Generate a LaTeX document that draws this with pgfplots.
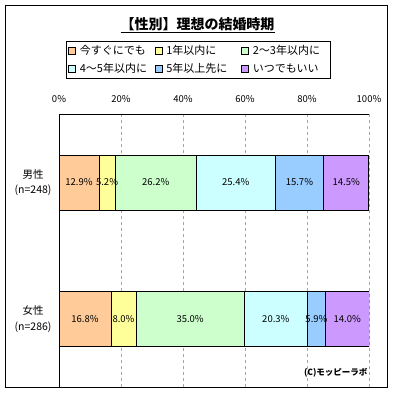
\documentclass[border=0pt]{standalone}
\usepackage{pgfplots}
\pgfplotsset{compat=1.18}
\usepackage{fontspec}
\setmainfont{Noto Sans CJK JP}
\definecolor{c1}{HTML}{FFCC99}
\definecolor{c2}{HTML}{FFFF99}
\definecolor{c3}{HTML}{CCFFCC}
\definecolor{c4}{HTML}{CCFFFF}
\definecolor{c5}{HTML}{99CCFF}
\definecolor{c6}{HTML}{CC99FF}
\pgfplotsset{frameaxis/.style={at={(59pt,-387pt)}, anchor=south west, scale only axis,
  width=310pt, height=273pt, xmin=0, xmax=100, ymin=-387, ymax=-114}}
\begin{document}
\begin{tikzpicture}[x=1pt,y=1pt]
\fill[white] (0pt,0pt) rectangle (394pt,-392pt);
\draw[black, line width=0.9pt] (5.5pt,-5.5pt) rectangle (387.5pt,-387.5pt);
\node[font=\bfseries\fontsize{14}{16}\selectfont] at (197.5pt,-25pt) {\underline{【性別】理想の結婚時期}};
\node[font=\bfseries\fontsize{8.5}{10}\selectfont, anchor=east] at (371pt,-373pt) {(C)モッピーラボ};
\begin{axis}[frameaxis,
  xbar stacked, bar width=55pt,
  axis x line*=top, axis y line*=left,
  axis line style={black, line width=0.9pt},
  xtick={0,20,40,60,80,100},
  xticklabel={\pgfmathprintnumber{\tick}\%},
  /pgf/number format/assume math mode=true,
  xticklabel style={font=\fontsize{9.5}{11}\selectfont},
  xticklabel shift=8pt,
  ytick={-319,-182.5},
  yticklabels={{女性\\(n=286)},{男性\\(n=248)}},
  yticklabel style={align=center, font=\fontsize{10.5}{15.5}\selectfont},
  yticklabel shift=4pt,
  major tick length=0pt,
  xmajorgrids, grid style={gray!70, dashed, line width=0.5pt},
  legend columns=3,
  legend style={at={(rel axis cs:0.0226,1.267)}, anchor=north west, draw=black, line width=0.6pt,
    font=\fontsize{11}{12}\selectfont, inner xsep=2pt, inner ysep=2pt, row sep=3pt,
    /tikz/every odd column/.style={column sep=2pt},
    /tikz/every even column/.style={text width=73pt, inner xsep=0pt},
    /tikz/column 6/.style={text width=66pt, inner xsep=0pt}},
  legend cell align=left,
  legend image code/.code={\draw[#1, draw=black, line width=0.5pt] (0pt,-3.5pt) rectangle (7pt,3.5pt);},
]
\addplot[fill=c1, draw=black, line width=0.7pt] coordinates {(12.9,-182.5) (16.8,-319)};
\addlegendentry{今すぐにでも}
\addplot[fill=c2, draw=black, line width=0.7pt] coordinates {(5.2,-182.5) (8.0,-319)};
\addlegendentry{1年以内に}
\addplot[fill=c3, draw=black, line width=0.7pt] coordinates {(26.2,-182.5) (35.0,-319)};
\addlegendentry{2〜3年以内に}
\addplot[fill=c4, draw=black, line width=0.7pt] coordinates {(25.4,-182.5) (20.3,-319)};
\addlegendentry{4〜5年以内に}
\addplot[fill=c5, draw=black, line width=0.7pt] coordinates {(15.7,-182.5) (5.9,-319)};
\addlegendentry{5年以上先に}
\addplot[fill=c6, draw=black, line width=0.7pt] coordinates {(14.5,-182.5) (14.0,-319)};
\addlegendentry{いつでもいい}
\end{axis}
% value labels at the middle of each segment
\begin{axis}[frameaxis, hide axis,
  /pgf/number format/assume math mode=true,
  nodes near coords={\pgfmathprintnumber[fixed,fixed zerofill,precision=1]{\pgfplotspointmeta}\%},
  point meta=explicit,
  every node near coord/.append style={anchor=center, font=\fontsize{9.5}{11}\selectfont, text=black, inner sep=0pt},
]
\addplot[draw=none, mark=none] coordinates {
 (6.45,-182.5) [12.9] (15.5,-182.5) [5.2] (31.2,-182.5) [26.2]
 (57.0,-182.5) [25.4] (77.55,-182.5) [15.7] (92.65,-182.5) [14.5]};
\addplot[draw=none, mark=none] coordinates {
 (8.4,-319) [16.8] (20.8,-319) [8.0] (42.3,-319) [35.0]
 (69.95,-319) [20.3] (83.05,-319) [5.9] (93.0,-319) [14.0]};
\end{axis}
\end{tikzpicture}
\end{document}
